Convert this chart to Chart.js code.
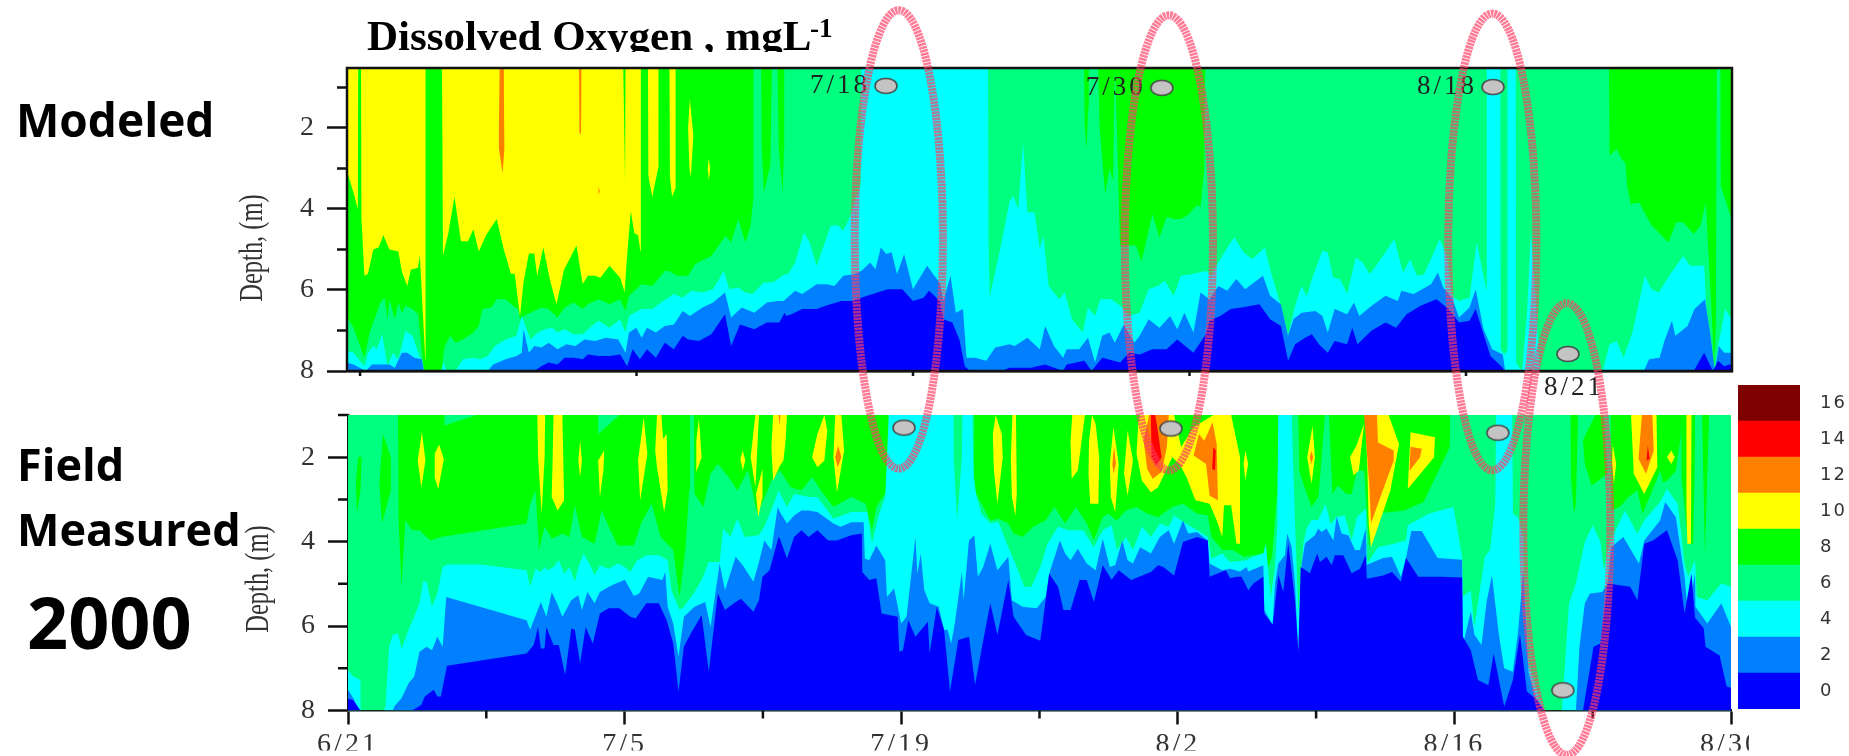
<!DOCTYPE html>
<html><head><meta charset="utf-8">
<script src="https://cdn.jsdelivr.net/npm/chart.js@4"></script>
<style>html,body{margin:0;padding:0;background:#fff;overflow:hidden}canvas{position:absolute;left:0;top:0;filter:blur(.5px)}</style>
</head><body>
<canvas id="top" width="1849" height="756" style="z-index:1"></canvas>
<canvas id="bottom" width="1849" height="756" style="z-index:2"></canvas>
<canvas id="bar" width="1849" height="756" style="z-index:3"></canvas>
<script>
// ---- axes: days since 6/21, depth in metres
const majorDays=[0,14,28,42,56,70];
const dateLabels=['6/21','7/5','7/19','8/2','8/16','8/30'];
const minorDays=[7,21,35,49,63];
const depthTicks=[2,4,6,8];
const depthMinor=[1,3,5,7];
const legendLevels=[0,2,4,6,8,10,12,14,16];
const levelColors=['#0000ff','#007fff','#00ffff','#00ff7f','#00ff00','#ffff00','#ff7f00','#ff0000','#7f0000'];

// ---- MODELED panel: contour depth [day, depth]
const topDO10=[[-.7,3],[-.33,3.6],[-.11,4],[-.09,.5],[.05,.5],[.07,4.2],[.22,5.65],[.4,5.6],[.67,5],[.94,4.95],[1.18,4.65],[1.49,5],[1.94,5.05],[2.12,5.55],[2.39,5.9],[2.57,5.5],[2.93,5.45],[3.03,5.15],[3.3,7.7],[3.32,.5],[4.15,.5],[4.2,5.15],[4.47,4.6],[4.78,3.7],[5.11,4.8],[5.47,4.8],[5.74,4.5],[6.01,5.05],[6.38,4.65],[6.92,4.25],[7.28,5],[7.64,5.6],[7.83,5.6],[8.1,6.65],[8.28,5.8],[8.55,5.1],[8.82,5.1],[8.97,5.65],[9.28,4.95],[9.64,5.8],[9.95,6.35],[10.33,5.5],[10.96,4.9],[11.27,5.85],[11.54,5.65],[11.9,5.65],[12.17,5.7],[12.63,5.4],[13.17,5.7],[13.4,6.05],[13.5,5.3],[13.71,4.05],[13.89,4.6],[14.08,4.65],[14.2,5.05],[14.22,.5],[14.58,.5],[14.6,3.2],[14.8,3.7],[15.09,3],[15.11,.5],[15.67,.5],[15.69,3.2],[15.8,3.7],[15.96,3.5],[15.98,.5],[70,.5]];
const topDO8=[[-.7,6.64],[-.33,6.93],[.22,7.67],[.49,7.05],[1.03,6.31],[1.25,6.19],[1.39,6.72],[1.49,6.23],[1.76,6.72],[1.94,6.31],[2.12,6.56],[2.3,6.39],[2.66,6.47],[2.93,6.6],[3.12,7.46],[3.24,8],[4.11,8],[4.29,7.38],[4.57,7.13],[4.84,7.3],[5.2,7.22],[5.74,7.05],[6.01,6.89],[6.2,6.47],[6.65,6.43],[6.92,6.23],[7.37,6.23],[7.74,6.39],[8,6.47],[8.1,6.72],[8.28,6.64],[8.64,6.56],[9.18,6.43],[9.55,6.47],[9.82,6.6],[10,6.68],[10.36,6.43],[10.82,6.31],[11.27,6.47],[11.54,6.35],[12.08,6.23],[12.63,6.35],[13.17,6.23],[13.44,6.52],[13.62,6.14],[14.26,5.86],[14.8,5.9],[15.43,5.53],[15.62,5.53],[16.07,5.65],[16.61,5.65],[16.97,5.36],[17.79,5.16],[18.51,4.66],[18.79,4.83],[19.15,4.25],[19.51,4.83],[19.78,4.41],[19.91,3.75],[19.92,.5],[20.31,.5],[20.34,2.5],[20.45,3.6],[20.78,2.9],[20.85,.5],[21.14,.5],[21.2,2.5],[21.4,3.6],[21.47,2.5],[21.48,.5],[36.66,.5],[36.7,2],[36.78,2.5],[36.88,1.5],[36.9,.5],[37.38,.5],[37.45,2],[37.73,3.63],[37.95,3],[38.13,3.3],[38.2,1],[38.23,.5],[38.35,2.5],[38.48,4.9],[39.3,4.9],[39.57,5.3],[40.12,4.13],[40.48,4.7],[40.84,4.2],[41.2,4.25],[41.56,4.25],[41.92,4.15],[42.38,3.9],[42.56,3.95],[42.75,3],[42.79,.5],[63.24,.5],[63.27,2.68],[63.63,2.52],[63.89,2.77],[64.07,2.85],[64.16,3.42],[64.34,3.88],[64.78,3.84],[65.13,4.17],[65.4,4.41],[65.76,4.58],[66.25,4.83],[66.64,4.33],[67,4.33],[67.53,4.62],[67.88,4.41],[68.15,3.84],[68.24,4.74],[68.41,6.23],[68.56,7.88],[68.65,7],[68.7,.5],[68.88,.5],[68.9,3.42],[69.44,4.25],[69.6,4.3]];
const topDO6=[[-.7,7.5],[-.33,7.55],[.22,7.88],[.4,7.55],[.67,7.38],[.85,7.46],[1.12,7.09],[1.39,7.88],[1.67,7.55],[1.94,7.71],[2.3,7.01],[2.66,7.13],[3.12,7.79],[3.24,8],[4.11,8],[4.24,7.79],[4.38,8],[4.84,8],[5.2,7.71],[5.74,7.67],[6.1,7.71],[6.47,7.63],[6.83,7.38],[7.37,7.22],[7.92,7.13],[8.19,6.64],[8.37,6.89],[8.64,7.22],[9,7.05],[9.37,6.97],[9.73,6.93],[10,7.05],[10.36,6.97],[10.82,7.09],[11.27,7.09],[11.54,6.97],[12.08,6.76],[12.63,6.93],[13.17,6.72],[13.44,7.05],[13.62,6.64],[14.26,6.47],[14.8,6.47],[15.34,6.27],[15.89,6.1],[16.34,6.19],[16.79,6.02],[17.34,6.06],[17.88,5.98],[18.42,5.53],[18.7,5.98],[19.15,5.94],[19.51,6.06],[19.87,6.1],[20.42,5.82],[20.96,5.8],[21.47,5.62],[21.67,5.61],[22.03,5.32],[22.48,4.58],[22.76,4.83],[23.12,5.4],[23.48,4.91],[23.84,4.41],[24.2,4.41],[24.47,4.54],[24.84,4.17],[25.07,3.8],[25.35,3.4],[25.38,.5],[31.8,.5],[31.83,5],[31.89,6.15],[32.16,5.57],[32.52,4.74],[32.88,3.84],[33.06,3.67],[33.33,4],[33.57,2.35],[33.79,4.08],[34.15,4.08],[34.42,4.99],[34.6,4.66],[34.87,5.9],[35.41,6.23],[35.69,6.06],[36.05,6.72],[36.59,7.05],[36.86,6.43],[37.22,6.64],[37.49,6.23],[38.04,6.23],[38.49,6.39],[38.94,6.64],[39.48,6.56],[39.93,5.98],[40.39,5.9],[40.75,5.77],[41.2,6.15],[41.56,5.65],[42.1,5.61],[42.83,5.53],[43.1,5.65],[43.46,5.32],[43.82,5.03],[44.27,4.7],[44.73,5.07],[45.18,5.24],[45.81,4.95],[46.17,5.65],[46.63,6.39],[46.99,7.13],[47.35,6.39],[47.67,5.9],[47.94,6.15],[48.2,5.73],[48.73,5.03],[49,5.07],[49.27,5.69],[49.62,5.73],[49.98,6.1],[50.42,5.2],[50.77,5.32],[51.13,5.61],[51.57,5.32],[52.37,4.74],[52.81,5.57],[53.17,5.24],[53.52,5.65],[53.88,5.61],[54.67,4.74],[55.03,5.16],[55.29,6.15],[55.65,6.27],[56.18,6.19],[56.54,4.83],[56.89,5.65],[57.03,6],[57.05,.5],[57.74,.5],[57.76,7.46],[57.95,7.6],[58.08,7.5],[58.1,.5],[58.52,.5],[58.54,7.8],[58.84,8],[59.1,6.5],[59.28,4.58],[59.5,6],[59.73,8],[60.08,8],[62.92,8],[63.27,7.34],[63.63,7.26],[63.98,7.67],[64.43,7.05],[65.05,5.65],[65.4,5.98],[65.76,6.06],[66.29,5.65],[67,5.16],[67.35,5.4],[68.06,5.4],[68.24,7.05],[68.5,7.88],[68.59,8],[68.77,7.38],[69.12,6.47],[69.44,6.72],[69.6,6.72]];
const topDO4=[[-.7,7.79],[-.33,7.84],[.3,8],[.6,7.84],[1.2,7.84],[1.49,7.84],[1.76,7.92],[2.12,7.55],[2.39,7.55],[2.75,7.67],[3.12,7.71],[3.24,8],[6.47,8],[6.74,7.84],[7.37,7.71],[7.92,7.63],[8.19,7.55],[8.28,6.97],[8.55,7.55],[8.82,7.38],[9.18,7.42],[9.55,7.3],[10,7.46],[10.45,7.34],[10.91,7.38],[11.36,7.22],[11.9,7.26],[12.45,7.18],[13.08,7.22],[13.44,7.55],[13.62,7.05],[13.99,6.93],[14.26,7.18],[14.53,6.93],[14.98,7.05],[15.43,6.89],[15.89,6.85],[16.34,6.52],[16.7,6.64],[17.34,6.43],[17.88,6.31],[18.48,6.06],[18.79,6.68],[19.33,6.43],[19.96,6.56],[20.6,6.31],[21.14,6.27],[21.45,6.27],[22.03,6.02],[22.39,6.1],[23.12,5.86],[23.66,5.86],[24.02,5.9],[24.47,5.65],[25.02,5.61],[25.38,5.53],[25.83,5.32],[26.1,5.49],[26.37,4.95],[26.64,5.11],[26.92,5.07],[27.19,5.61],[27.55,5.11],[28,5.98],[28.45,5.61],[28.72,5.4],[29.08,5.65],[29.36,5.82],[29.54,6.27],[29.9,5.65],[30.17,6.56],[30.53,6.47],[30.71,7.67],[31.16,7.67],[31.71,7.75],[32.16,7.42],[32.88,7.34],[33.15,7.38],[33.79,7.18],[34.42,7.46],[34.69,6.89],[35.14,7.38],[35.6,7.67],[35.78,7.46],[36.41,7.46],[36.86,7.18],[37.22,7.79],[37.58,7.13],[37.95,7.05],[38.22,7.3],[38.67,6.85],[39.21,7.3],[39.48,7.13],[39.93,6.72],[40.48,6.93],[41.02,6.64],[41.38,6.97],[41.74,6.56],[42.2,7.05],[42.56,6.06],[43.01,6.23],[43.46,5.9],[43.91,6.02],[44.37,5.73],[44.82,5.98],[45.72,5.65],[46.08,6.14],[46.63,6.35],[46.99,7.13],[47.26,6.72],[47.67,6.56],[48.38,6.52],[48.73,6.64],[49,7.05],[49.35,6.47],[49.98,6.6],[50.33,6.31],[50.6,6.64],[51.22,6.39],[51.93,6.14],[52.55,6.27],[52.73,6.02],[53.35,6.1],[54.23,5.86],[54.58,5.57],[54.85,5.94],[55.29,6.19],[55.65,6.68],[56.18,6.43],[56.49,5.98],[56.89,6.97],[57.33,7.46],[57.86,7.59],[57.99,8],[65,8],[65.27,7.71],[65.8,7.67],[66.07,7.22],[66.43,6.76],[66.6,7.13],[67.22,6.89],[67.57,6.47],[68.1,6.23],[68.36,7.05],[68.6,8],[68.8,7.38],[69.07,7.55],[69.6,7.55]];
const topDO2=[[-.7,8],[8.82,8],[9.18,7.88],[9.55,7.79],[10,7.84],[10.36,7.67],[10.82,7.67],[11.27,7.71],[11.54,7.59],[12.08,7.63],[12.63,7.63],[13.17,7.59],[13.53,7.88],[13.8,7.46],[14.17,7.71],[14.53,7.46],[14.98,7.67],[15.43,7.3],[15.89,7.46],[16.34,7.13],[16.61,7.22],[17.16,7.26],[17.79,7.09],[18.48,6.6],[18.79,7.38],[19.24,6.85],[19.96,6.97],[20.6,6.8],[21.23,6.8],[21.5,6.56],[21.58,6.64],[21.85,6.6],[22.39,6.47],[23.12,6.47],[23.57,6.39],[24.38,6.27],[24.93,6.27],[25.38,6.19],[26.19,6.06],[26.73,5.98],[27.46,5.98],[28,6.27],[28.54,6.19],[28.81,6.02],[29.36,6.27],[29.54,6.72],[29.99,6.8],[30.35,7.22],[30.62,7.88],[30.89,8],[32.52,8],[32.88,7.92],[33.97,7.92],[34.69,7.84],[35.6,8],[35.78,7.84],[36.68,7.75],[37.04,8],[37.58,7.67],[38.49,7.79],[38.94,7.55],[39.48,7.59],[40.12,7.46],[40.84,7.46],[41.38,7.22],[42.2,7.55],[42.83,7.09],[43.01,6.76],[43.55,6.64],[44.09,6.47],[44.64,6.43],[45.54,6.35],[46.08,6.72],[46.63,6.89],[46.99,7.75],[47.35,7.34],[47.85,7.18],[48.2,7.09],[48.55,7.34],[49,7.55],[49.35,7.26],[49.98,7.34],[50.24,6.93],[50.51,7.34],[51.22,7],[51.93,6.8],[52.46,6.93],[52.99,6.6],[53.7,6.39],[54.5,6.23],[55.12,6.47],[55.65,6.8],[56.18,6.76],[56.49,6.47],[56.89,7.09],[57.24,7.63],[57.86,7.92],[57.95,8],[67.53,8],[68.06,7.55],[68.5,8],[68.77,7.75],[69.07,7.88],[69.6,7.8]];
const topGreenPatches=[[[13.33,.5],[13.44,.5],[13.42,3.35]]];
const topYellowPatches=[[[16.61,2],[16.7,1.28],[16.88,2.2],[16.75,3.22],[16.68,3]],[[17.6,3],[17.66,2.76],[17.73,3],[17.66,3.3]]];
const topOrangePatches=[[[7.07,.5],[7.28,.5],[7.3,2],[7.31,2.5],[7.22,3.13],[7.03,2.5],[7.03,2]],[[11.09,.5],[11.21,.5],[11.19,2.14],[11.11,2.14]],[[12.07,3.45],[12.14,3.55],[12.08,3.65]]];

// ---- FIELD MEASURED panel
const fieldDO8=[[0,1],[2.53,1],[2.56,3.5],[2.71,5.07],[2.9,3.5],[3.25,3.73],[3.62,3.73],[4.16,3.97],[4.7,3.89],[9.04,3.57],[9.22,3.1],[9.49,2.79],[9.67,4.2],[9.95,3.65],[10.31,3.93],[10.85,3.81],[11.21,3.89],[11.48,3.14],[11.84,3.89],[12.48,4.05],[12.84,3.26],[13.2,3.65],[13.65,4.09],[14.47,4.09],[14.83,3.57],[15.37,3.1],[15.82,3.89],[16.46,4.2],[16.78,5.31],[17.09,4.13],[17.27,2.79],[17.31,1],[17.5,1],[17.54,2.87],[17.99,3.18],[18.35,2.39],[18.72,2.16],[19.26,2.47],[19.71,2.79],[20.25,2.31],[20.71,3.34],[21.16,2.87],[21.43,2.55],[21.86,2.31],[22.4,2.71],[22.95,2.79],[23.49,2.47],[23.94,2.79],[24.57,3.18],[25.47,2.94],[26.2,3.1],[26.52,3.73],[26.74,3.18],[27.28,2.79],[27.37,1],[31.69,1],[31.7,2.79],[32.06,3.1],[32.51,3.5],[32.91,3.46],[33.42,3.57],[33.69,3.81],[34.14,3.89],[34.68,3.65],[35.31,3.5],[35.76,3.18],[36.3,3.57],[36.84,3.18],[37.39,3.57],[37.75,3.97],[38.2,3.42],[38.47,3.34],[38.92,3.5],[39.37,3.26],[39.91,3.18],[40.45,3.34],[41,3.42],[41.72,3.18],[42.26,3.1],[42.98,3.34],[43.52,3.38],[43.7,3.89],[44.25,4.2],[44.79,4.2],[45.33,4.36],[46.32,4.28],[46.59,4.6],[46.77,4.36],[47.04,2.79],[47.13,1],[48.1,1],[48.15,2.32],[48.41,2.71],[48.77,3.18],[49.12,2.94],[49.45,1],[49.65,1],[49.83,2.87],[50.1,2.67],[50.54,2.87],[50.8,2.87],[51.07,2.32],[51.43,2.32],[51.69,4.13],[51.96,3.34],[53.46,3.26],[54.44,3.06],[55.77,1.76],[55.78,1],[61.88,1],[61.9,2.5],[62.06,3.34],[62.15,3.1],[62.24,1.3],[62.25,1],[63.92,1],[63.93,3.26],[64.37,3.18],[64.81,2.94],[65.26,2.79],[65.52,3.34],[66.05,2.75],[66.41,2.32],[66.55,2.6],[66.76,2.55],[67.21,2.32],[67.46,1.5],[67.48,1],[67.5,2.5],[67.83,4.05],[68.09,4.05],[68.17,2],[68.18,1],[68.54,1],[68.68,4.36],[68.89,1],[70,1]];
const fieldDO6=[[0,7.04],[.27,7.2],[.63,7.28],[.64,8],[1.81,8],[1.9,7.9],[2.08,6.49],[2.26,6.21],[2.53,6.17],[2.71,6.53],[3.07,6.09],[3.35,5.78],[3.62,5.46],[3.8,4.95],[3.98,4.95],[4.25,5.54],[4.52,5.23],[4.79,4.6],[5.06,4.54],[6.69,4.54],[9.04,4.68],[9.22,5.07],[9.49,4.64],[9.76,4.72],[9.95,4.6],[10.13,4.68],[10.4,4.6],[10.67,4.44],[10.94,4.76],[11.21,4.6],[11.48,4.95],[11.66,4.6],[11.93,4.28],[12.3,4.6],[12.48,4.8],[12.75,4.56],[13.2,4.64],[13.65,4.52],[14.01,4.6],[14.29,4.72],[14.65,4.44],[15.1,4.32],[15.73,4.32],[16.18,4.44],[16.37,5.15],[16.78,5.62],[17,5.54],[17.54,5.19],[17.9,4.91],[18.26,4.48],[18.81,4.48],[18.99,3.69],[19.35,3.89],[19.71,3.46],[20.07,3.89],[20.8,3.85],[21.07,3.65],[21.52,3.14],[21.79,2.79],[22.22,3.18],[22.58,2.87],[23.31,2.94],[23.76,2.94],[24.57,3.46],[25.47,3.3],[26.29,3.3],[26.52,4.05],[26.83,3.42],[27.19,2.94],[27.37,1],[30.65,1],[30.66,2],[30.83,3.5],[31.07,2],[31.1,1],[31.61,1],[31.65,2.39],[31.79,2.87],[32.06,3.34],[32.51,3.57],[32.91,3.53],[33.42,4.13],[33.78,4.52],[34.23,5.07],[34.59,5.07],[35.04,4.6],[35.4,4.05],[35.94,3.65],[36.48,3.73],[37.21,3.73],[37.75,4.13],[38.2,3.73],[38.65,3.61],[38.92,4.2],[39.37,3.89],[39.73,4.2],[40.18,3.65],[40.64,3.89],[41.09,3.57],[41.54,3.65],[41.81,3.38],[42.26,3.53],[42.98,3.73],[43.52,3.89],[43.7,4.4],[44.25,4.28],[44.64,4.48],[45.48,4.44],[45.82,4.36],[46.33,4.28],[46.46,4.04],[46.7,5.34],[46.92,4.6],[47.04,3.6],[47.08,1],[47.77,1],[47.8,1.6],[47.93,3.5],[48.1,5.7],[48.35,4.04],[48.52,3.69],[48.77,3.49],[49.11,3.49],[49.48,3.1],[49.74,3.6],[50.01,3.42],[50.45,3.38],[50.8,3.97],[51.07,3.42],[51.51,3.22],[51.6,4.52],[52.13,4.13],[52.93,4.05],[53.55,3.97],[53.64,3.61],[54.71,3.34],[55.95,3.18],[56.39,4.36],[56.43,5.31],[56.83,5.15],[57.01,6.02],[57.54,4.36],[57.81,4.2],[58.07,3.1],[58.11,1],[58.93,1],[58.96,3.34],[59.23,3.42],[59.49,3.89],[59.5,4.68],[59.76,6.88],[60.38,7.83],[60.56,8],[61.44,8],[61.8,5.46],[62.15,4.99],[62.6,4.01],[63,3.61],[63.39,4.01],[63.57,4.68],[63.84,4.05],[64.63,3.26],[65.26,3.81],[65.61,3.5],[66.41,3.06],[66.76,2.75],[67.3,3.1],[67.65,4.52],[67.83,4.83],[68.18,4.44],[68.27,5.31],[68.8,5.39],[69.51,4.99],[70,5.07]];
const fieldDO4=[[0,7.51],[.27,7.71],[.54,8],[2.26,8],[2.35,7.9],[2.71,7.71],[3.07,7.35],[3.35,7.2],[3.62,6.61],[3.98,6.49],[4.25,6.57],[4.52,6.25],[4.79,6.49],[4.97,5.31],[9.04,5.86],[9.22,6.09],[9.4,5.86],[9.76,5.43],[10.04,5.78],[10.31,5.19],[10.58,5.46],[10.85,5.78],[11.3,5.39],[11.66,5.27],[11.84,5.62],[12.12,5.19],[12.48,5.46],[12.75,5.19],[13.38,5.03],[14.01,4.9],[14.47,5.29],[14.74,5.23],[15.19,4.83],[15.91,4.91],[16.06,4.72],[16.18,5.54],[16.46,5.94],[16.73,6.72],[17,5.78],[17.54,5.54],[18.08,5.43],[18.35,6.02],[18.81,4.52],[19.08,5.15],[19.62,4.36],[19.98,4.56],[20.52,4.95],[20.8,4.48],[21.07,3.97],[21.43,4.2],[21.75,3.18],[21.86,3.3],[22.22,3.57],[22.58,3.38],[22.95,3.26],[23.31,3.26],[23.76,3.3],[24.57,3.57],[24.93,3.65],[25.47,3.54],[26.1,3.54],[26.16,4.4],[26.38,4.44],[26.74,4.09],[27.19,4.44],[27.28,5.31],[27.64,5.11],[28,5.94],[28.27,5.78],[28.72,3.89],[28.82,4.76],[28.99,4.28],[29.17,5.15],[29.44,5.46],[29.9,5.54],[30.17,6.09],[30.35,6.09],[30.53,6.41],[30.71,5.94],[31.07,4.72],[31.16,5.39],[31.43,3.97],[31.7,3.85],[31.88,4.83],[32.15,4.6],[32.51,4.05],[32.87,4.68],[33.42,4.36],[33.6,5.39],[34.14,5.54],[34.86,5.58],[35.31,5.31],[35.49,4.76],[36.03,3.97],[36.3,4.28],[36.57,4.44],[36.94,4.17],[37.39,4.52],[37.84,4.68],[38.2,3.93],[38.56,4.6],[38.83,4.56],[39.19,3.97],[39.46,4.44],[39.73,4.52],[40.09,4.13],[40.64,4.28],[41.09,3.89],[41.54,3.73],[41.81,4.05],[42.26,3.5],[42.53,3.81],[42.98,3.77],[43.52,3.97],[43.61,4.52],[44.25,4.68],[44.64,4.64],[45.15,4.71],[45.48,4.6],[45.57,4.71],[46.33,4.56],[46.38,5.62],[46.8,5.97],[46.92,4.99],[47.09,4.52],[47.42,4.32],[47.54,3.81],[47.76,4.12],[47.93,4.99],[48.1,6.61],[48.27,4.52],[48.44,4.04],[48.94,3.85],[49.11,3.69],[49.28,3.77],[49.53,3.69],[49.87,3.97],[50.04,3.41],[50.29,3.81],[50.63,3.85],[50.97,4.2],[51.22,4.2],[51.51,3.69],[51.57,4.55],[52.4,4.39],[52.84,4.36],[53.29,4.83],[53.55,4.39],[53.82,3.75],[54.35,3.75],[55.15,4.39],[56.39,4.43],[56.43,6.45],[56.83,5.65],[57.01,6.2],[57.37,6.45],[57.63,5.42],[57.9,4.8],[58.25,6.2],[58.52,7],[58.96,7.08],[59.23,6.1],[59.49,4.68],[59.76,7.12],[60.2,7.83],[60.56,8],[62.15,8],[62.33,6.49],[62.6,5.46],[62.86,5.23],[63.48,5.19],[63.75,4.99],[63.93,4.13],[64.55,3.89],[65.34,4.52],[65.61,3.97],[66.41,3.5],[66.67,3.06],[67.21,3.42],[67.65,4.83],[67.83,5.7],[68.18,4.75],[68.2,5.54],[68.8,5.94],[69.51,5.46],[70,6.02]];
const fieldDO2=[[0,7.72],[.27,7.76],[.63,8],[3.25,8],[3.71,7.87],[3.89,7.67],[4.34,7.51],[4.52,7.67],[4.7,7.67],[5.01,6.94],[9.04,6.65],[9.4,6.45],[9.62,6.02],[9.76,6.53],[9.95,6.53],[10.04,6.02],[10.4,6.45],[10.67,6.45],[10.99,7.16],[11.3,6.06],[11.48,6.09],[11.75,6.88],[12.03,6.02],[12.39,6.41],[12.75,5.7],[13.2,5.58],[13.74,5.58],[14.29,5.78],[14.56,5.82],[15.1,5.46],[15.73,5.46],[16.13,5.86],[16.46,6.41],[16.73,7.55],[17,6.49],[17.36,6.17],[17.9,5.74],[18.26,7.08],[18.72,5.23],[19.08,5.62],[19.53,5.46],[19.89,5.35],[20.52,5.66],[20.8,5.39],[20.98,4.83],[21.34,4.68],[21.79,3.89],[21.86,3.93],[22.22,4.4],[22.58,3.89],[22.95,3.73],[23.31,3.89],[23.76,3.73],[24.3,3.97],[24.75,3.97],[25.47,3.85],[26.01,3.81],[26.03,4.72],[26.38,4.91],[26.74,4.87],[27.01,5.7],[27.82,5.78],[27.9,6.61],[28.09,6.57],[28.36,5.86],[28.72,6.25],[29.35,5.9],[29.44,6.65],[29.8,5.54],[30.17,6.09],[30.47,7.55],[30.89,6.33],[31.43,6.25],[31.74,7.39],[32.06,6.57],[32.51,5.46],[32.87,6.21],[33.42,4.91],[33.69,5.78],[34.32,6.21],[35.04,6.35],[35.49,4.76],[35.94,5.07],[36.21,5.62],[36.57,5.62],[37.03,4.91],[37.39,4.91],[37.75,5.43],[38.2,4.56],[38.65,4.9],[39.01,4.68],[39.64,4.91],[40.64,4.72],[41,4.56],[41.27,4.6],[41.81,4.8],[42.26,4.01],[42.98,3.89],[43.52,3.97],[43.61,4.83],[44.43,4.68],[44.64,4.87],[44.98,4.83],[45.23,4.83],[45.57,5.15],[45.82,4.99],[46.33,4.83],[46.38,5.7],[46.8,5.97],[47.09,4.79],[47.34,5.19],[47.59,4.04],[47.93,5.38],[48.1,6.61],[48.22,4.6],[48.69,4.75],[48.86,4.52],[49.06,4.28],[49.19,4.48],[49.53,4.36],[49.79,4.56],[49.95,4.32],[50.38,4.32],[50.8,4.75],[51.22,4.64],[51.51,4.32],[51.57,4.88],[52.4,4.8],[52.84,4.72],[53.29,4.95],[53.55,4.39],[54.17,4.83],[55.24,4.83],[56.39,4.85],[56.43,6.25],[56.83,6.57],[57.19,7.28],[57.72,7.4],[57.99,6.65],[58.52,7.91],[58.96,7.28],[59.32,6.2],[59.67,7.55],[60.2,7.75],[60.56,8],[62.51,8],[63.04,6.49],[63.39,6.41],[63.75,4.99],[64.9,5.07],[65.26,5.39],[65.61,4.05],[66.05,3.97],[66.76,3.73],[67.3,4.44],[67.65,5.7],[68,4.75],[68.18,5.8],[68.62,6.05],[68.71,6.49],[69.42,6.7],[69.78,7.43],[70,7.46]];
const fieldSpringPatches=[[[4.88,1.25],[6.51,1],[4.88,1]],[[12.66,1.45],[13.74,1],[12.66,1]]];
const fieldGreenPatches=[[[.51,2],[.69,2],[.63,2.79],[.45,3.34],[.4,2.63]],[[1.77,1.45],[2.17,2],[2.17,2.79],[1.72,3.57],[1.59,2.63]],[[62.51,1.6],[63.13,1],[63.57,1],[63.75,2.39],[62.95,2.67],[62.6,2.16]]];
const fieldYellowPatches=[[[3.74,1.41],[3.92,2.08],[3.71,2.71],[3.53,2.08]],[[4.61,1.7],[4.85,2.04],[4.57,2.75],[4.38,2.47],[4.39,1.92]],[[9.58,1],[9.98,1],[9.95,2],[9.8,3.34],[9.62,2]],[[10.4,1],[10.85,1],[10.94,3.02],[10.61,3.26],[10.31,2.94],[10.36,2]],[[11.75,1.61],[11.84,2.08],[11.75,2.47],[11.66,2.08]],[[12.97,1.84],[12.93,2.31],[12.75,2.94],[12.66,2.08]],[[14.97,1.06],[15.15,1.92],[14.79,3.02],[14.68,2.08]],[[15.64,1],[15.86,1],[15.95,1.57],[16.13,1.45],[16.18,2.79],[16,3.3],[15.64,2.24],[15.55,1.84]],[[17.76,1.09],[17.9,2],[17.63,2.35],[17.63,1.61]],[[19.98,1.84],[20.11,2.08],[19.98,2.31],[19.86,2.04]],[[20.62,1],[20.8,1],[20.62,2.71],[20.38,2]],[[20.98,2.28],[20.98,2.94],[20.76,3.42],[20.65,2.87]],[[21.52,1],[22.22,1],[22.15,1.61],[22.04,2.08],[21.86,2.2],[21.52,2.55],[21.43,1.76]],[[24.11,1],[24.26,1.37],[24.11,2.08],[23.76,2.24],[23.49,2],[23.76,1.45]],[[24.66,1],[24.97,1],[25.11,1.84],[24.75,2.83],[24.57,2]],[[32.78,1],[33.09,1.45],[33.14,2],[32.87,3.1],[32.69,2.31],[32.64,1.45]],[[33.63,1],[33.81,1],[33.85,2.87],[33.78,3.38],[33.6,2.94],[33.55,2]],[[36.66,1],[37.3,1],[36.94,2.31],[36.63,2.51],[36.57,1.61]],[[37.66,1],[37.84,1.21],[38.02,2],[37.98,3.1],[37.57,3.1],[37.48,2.39],[37.51,1.61]],[[38.74,1.29],[39.01,2.16],[38.83,3.3],[38.61,2.94],[38.56,2.16]],[[39.46,1.37],[39.73,2.08],[39.46,2.91],[39.28,2.39]],[[40,1.21],[40.09,1],[41.81,1],[42.17,1.76],[42.8,1.29],[43.8,1],[44.7,1],[45.15,2],[45.15,4.05],[44.97,4.05],[44.7,3.14],[44.34,3.14],[44.25,3.89],[43.97,3.5],[43.61,3.1],[42.89,3.02],[42.44,2.47],[42.08,2.16],[41.72,2],[41,2.71],[40.64,2.83],[40.18,2.55],[39.91,1.92]],[[45.42,1.84],[45.56,2.16],[45.42,2.55],[45.33,2.16]],[[48.82,1.26],[48.94,2],[48.77,2.63],[48.55,2]],[[51.43,1.21],[51.16,2.32],[50.89,2.43],[50.72,2],[51.07,1.69]],[[52.08,1],[52.67,1],[53.2,1.69],[52.76,2.79],[51.78,4.13],[51.66,3.57],[51.6,2.32],[51.51,1.27]],[[53.78,1.41],[55.02,1.53],[54.97,2],[53.64,2.75]],[[64.01,1.69],[64.19,2.16],[64.07,2.63],[63.98,2.16]],[[64.94,1],[66.23,1],[66.27,2.24],[65.61,2.87],[65.08,2.39]],[[66.98,1.84],[67.15,2],[66.98,2.16],[66.76,2]],[[67.74,1],[68,1],[67.97,4.05],[67.79,4.05],[67.74,3.1]]];
const fieldOrangePatches=[[[21.79,1],[21.88,1],[21.85,1.25]],[[24.81,1.72],[24.97,2],[24.79,2.24],[24.66,2]],[[38.77,1.76],[38.87,2.16],[38.74,2.39],[38.69,2.16]],[[40.55,1],[41.54,1],[41.45,1.76],[41.18,2.35],[40.73,2.51],[40.45,2.28],[40.27,1.61]],[[43.76,1.17],[43.97,1.69],[44.03,3.02],[43.61,2.91],[43.43,2.16],[42.8,1.96],[43.07,1.45],[43.34,1.61]],[[48.77,1.85],[48.85,2],[48.77,2.15],[48.68,2]],[[51.43,1],[52.08,1],[52.13,1.65],[52.93,1.84],[52.93,2.08],[52.31,2.87],[51.78,3.57],[51.69,2.63]],[[53.78,1.75],[54.35,1.8],[54.26,2],[53.73,2.32]],[[65.49,1],[66.02,1],[66.09,1.84],[65.7,2.39],[65.32,2.04]]];
const fieldRedPatches=[[[40.64,1],[40.85,1],[40.96,1.29],[41.18,2],[40.91,2.2],[40.67,2]],[[43.8,1.76],[43.92,1.84],[43.89,2.31],[43.74,2.28]],[[65.79,1.72],[65.88,2.04],[65.73,2.08]]];

// ---- marked sampling dates
const topDotDays=[26.63,40.6,57.37,61.16], topDotDepths=[.96,1.01,.99,7.58];
const topDotLabels=['7/18','7/30','8/18','8/21'];
const fieldDotDays=[28.14,41.65,58.2,61.49], fieldDotDepths=[1.3,1.32,1.42,7.52];
// ellipses: centre day, centre depth, half-width (days), half-height (m) on the field panel's scales
const ringDays=[27.88,41.55,57.92,61.69], ringDepths=[-3.16,-3.08,-3.1,3.7], ringHalfDays=[2.23,2.23,2.23,2.2], ringHalfDepths=[5.43,5.39,5.41,5.35];

const C={dark:levelColors[0],mid:levelColors[1],cyan:levelColors[2],spring:levelColors[3],green:levelColors[4],yellow:levelColors[5],orange:levelColors[6],red:levelColors[7]};
const pts=a=>a.map(([x,y])=>({x,y}));
const dotCanvas=(()=>{const c=document.createElement('canvas');c.width=26;c.height=20;const g=c.getContext('2d');g.beginPath();g.ellipse(13,10,11,7.5,0,0,7);g.fillStyle='#c4c4c4';g.fill();g.lineWidth=1.5;g.strokeStyle='#4a4a4a';g.stroke();return c})();
const base={showLine:true,pointRadius:0,pointHoverRadius:0,borderWidth:0,tension:0,borderColor:'transparent'};
const band=(d,color,maxD)=>({...base,data:pts(d),backgroundColor:color,fill:{value:maxD}});
const patch=(list,color)=>list.map(p=>({...base,data:pts(p),backgroundColor:color,fill:'shape'}));
const stack=l=>l.map((d,i)=>({...d,order:l.length-i}));
const dots=(xs,ys)=>({...base,showLine:false,fill:false,data:xs.map((x,i)=>({x,y:ys[i]})),pointRadius:10,pointStyle:dotCanvas,clip:false,order:-1});

function scalesFor(xMin,xMax,xTicks,yMin,labels,xLen){return{
 x:{type:'linear',min:xMin,max:xMax,afterBuildTicks:s=>{s.ticks=xTicks.map(value=>({value}))},afterFit:s=>{s.height=40},
    grid:{display:true,drawOnChartArea:false,drawTicks:true,tickLength:xLen,tickColor:'#111',tickWidth:2.5},border:{color:'#111',width:2.5},
    ticks:{display:labels,autoSkip:false,maxRotation:0,color:'#333',padding:3,font:{family:'"Liberation Serif"',size:28},callback:v=>dateLabels[majorDays.indexOf(v)]}},
 y:{type:'linear',reverse:true,min:yMin,max:8,afterBuildTicks:s=>{s.ticks=depthTicks.map(value=>({value}))},afterFit:s=>{s.width=100},
    grid:{display:true,drawOnChartArea:false,drawTicks:true,tickLength:20,tickColor:'#111',tickWidth:2.5},border:{color:'#111',width:2.5},
    ticks:{color:'#333',padding:10,font:{family:'"Liberation Serif"',size:28},callback:v=>String(v)}}};}

function depthTitle(ctx,x,y){ctx.save();ctx.translate(x,y);ctx.rotate(-Math.PI/2);ctx.scale(.72,1);ctx.font='34px "Liberation Serif"';ctx.fillStyle='#333';ctx.textAlign='center';ctx.textBaseline='middle';ctx.letterSpacing='0px';ctx.fillText('Depth, (m)',0,0);ctx.restore();}
function minorTicks(chart,days,len){const {ctx,scales:{x,y}}=chart;ctx.save();ctx.strokeStyle='#111';ctx.lineWidth=2.5;ctx.beginPath();
 days.forEach(d=>{const p=x.getPixelForValue(d);ctx.moveTo(p,y.bottom);ctx.lineTo(p,y.bottom+len)});
 depthMinor.forEach(d=>{if(d<y.min)return;const p=y.getPixelForValue(d);ctx.moveTo(x.left,p);ctx.lineTo(x.left-10,p)});ctx.stroke();ctx.restore();}
const spacing={id:'spacing',beforeDraw(c){c.ctx.letterSpacing='3px'}};

new Chart(document.getElementById('top'),{type:'scatter',
 data:{datasets:[dots(topDotDays,topDotDepths)].concat(stack([
  band([[-.7,.5],[70,.5]],C.yellow,8),
  ...patch(topOrangePatches,C.orange),
  band(topDO10,C.green,8),
  ...patch(topGreenPatches,C.green),
  ...patch(topYellowPatches,C.yellow),
  band(topDO8,C.spring,8),band(topDO6,C.cyan,8),band(topDO4,C.mid,8),band(topDO2,C.dark,8)]))},
 options:{responsive:false,animation:false,events:[],layout:{autoPadding:false,padding:{left:247,right:117,top:68,bottom:345}},
  plugins:{legend:{display:false},tooltip:{enabled:false},title:{display:false}},
  scales:scalesFor(-.66,69.47,minorDays,.52,false,10)},
 plugins:[spacing,{id:'topDecor',afterDraw(c){const {ctx,chartArea:a,scales:{x,y}}=c;
   minorTicks(c,majorDays.slice(0,5),5);
   ctx.save();ctx.strokeStyle='#111';ctx.lineWidth=2.5;ctx.strokeRect(a.left,a.top,a.right-a.left,a.bottom-a.top);
   ctx.letterSpacing='0px';
   ctx.save();ctx.beginPath();ctx.rect(0,0,1849,52);ctx.clip();
   ctx.fillStyle='#000';ctx.font='bold 43px "Liberation Serif"';ctx.textBaseline='alphabetic';ctx.fillText('Dissolved Oxygen , mgL',367,50);ctx.restore();
   ctx.fillStyle='#000';ctx.font='bold 27px "Liberation Serif"';ctx.fillText('-1',810,37);
   ctx.font='700 46px "Open Sans"';ctx.fillText('Modeled',16,137);
   ctx.font='700 45px "Open Sans"';ctx.fillText('Field',17,481);ctx.fillText('Measured',17,546);
   ctx.font='700 72px "Open Sans"';ctx.fillText('2000',27,649);
   depthTitle(ctx,253,248);depthTitle(ctx,259,579);
   ctx.font='27px "Liberation Serif"';ctx.letterSpacing='3px';ctx.fillStyle='#222';ctx.textBaseline='middle';
   topDotLabels.forEach((t,i)=>{const px=x.getPixelForValue(topDotDays[i]),py=y.getPixelForValue(topDotDepths[i]);
     if(i<3){ctx.textAlign='right';ctx.fillText(t,px-16,py)}else{ctx.textAlign='center';ctx.fillText(t,px+6,py+34)}});
   ctx.restore();}}]});

new Chart(document.getElementById('bottom'),{type:'scatter',
 data:{datasets:[dots(fieldDotDays,fieldDotDepths)].concat(stack([
  band([[0,1],[70,1]],C.spring,8),
  band(fieldDO8,C.green,1),
  ...patch(fieldSpringPatches,C.spring),
  ...patch(fieldGreenPatches,C.green),
  ...patch(fieldYellowPatches,C.yellow),
  ...patch(fieldOrangePatches,C.orange),
  ...patch(fieldRedPatches,C.red),
  band(fieldDO6,C.cyan,8),band(fieldDO4,C.mid,8),band(fieldDO2,C.dark,8)]))},
 options:{responsive:false,animation:false,events:[],layout:{autoPadding:false,padding:{left:248,right:118,top:415,bottom:5.5}},
  plugins:{legend:{display:false},tooltip:{enabled:false},title:{display:false}},
  scales:scalesFor(0,70,majorDays,1,true,14)},
 plugins:[spacing,{id:'fieldDecor',afterDraw(c){const {ctx,scales:{x,y}}=c;
   minorTicks(c,minorDays,8);
   ctx.save();ctx.fillStyle='#fff';ctx.fillRect(1749,716,100,40);
   ctx.strokeStyle='rgba(255,60,100,.68)';ctx.lineWidth=8;ctx.setLineDash([2.5,.8]);
   ringDays.forEach((d,i)=>{const cx=x.getPixelForValue(d),cy=y.getPixelForValue(ringDepths[i]);
     const rx=x.getPixelForValue(d+ringHalfDays[i])-cx,ry=y.getPixelForValue(ringDepths[i]+ringHalfDepths[i])-cy;
     ctx.beginPath();ctx.ellipse(cx,cy,rx,ry,0,0,Math.PI*2);ctx.stroke()});
   ctx.restore();}}]});

new Chart(document.getElementById('bar'),{type:'bar',
 data:{labels:['DO'],datasets:legendLevels.map((v,i)=>({data:[[v-1,v+1]],backgroundColor:levelColors[i],grouped:false,barPercentage:1,categoryPercentage:1,borderWidth:0}))},
 options:{responsive:false,animation:false,events:[],layout:{autoPadding:false,padding:{left:1738,right:0,top:385,bottom:47}},
  plugins:{legend:{display:false},tooltip:{enabled:false}},
  scales:{x:{display:false},y:{position:'right',min:-1,max:17,afterBuildTicks:s=>{s.ticks=legendLevels.map(value=>({value}))},afterFit:s=>{s.width=49},
   grid:{display:false},border:{display:false},ticks:{color:'#333',padding:12,font:{family:'"DejaVu Sans"',size:18}}}}},
 plugins:[{id:'legendSpacing',beforeDraw(c){c.ctx.letterSpacing='2px'}}]});
</script>
</body></html>
